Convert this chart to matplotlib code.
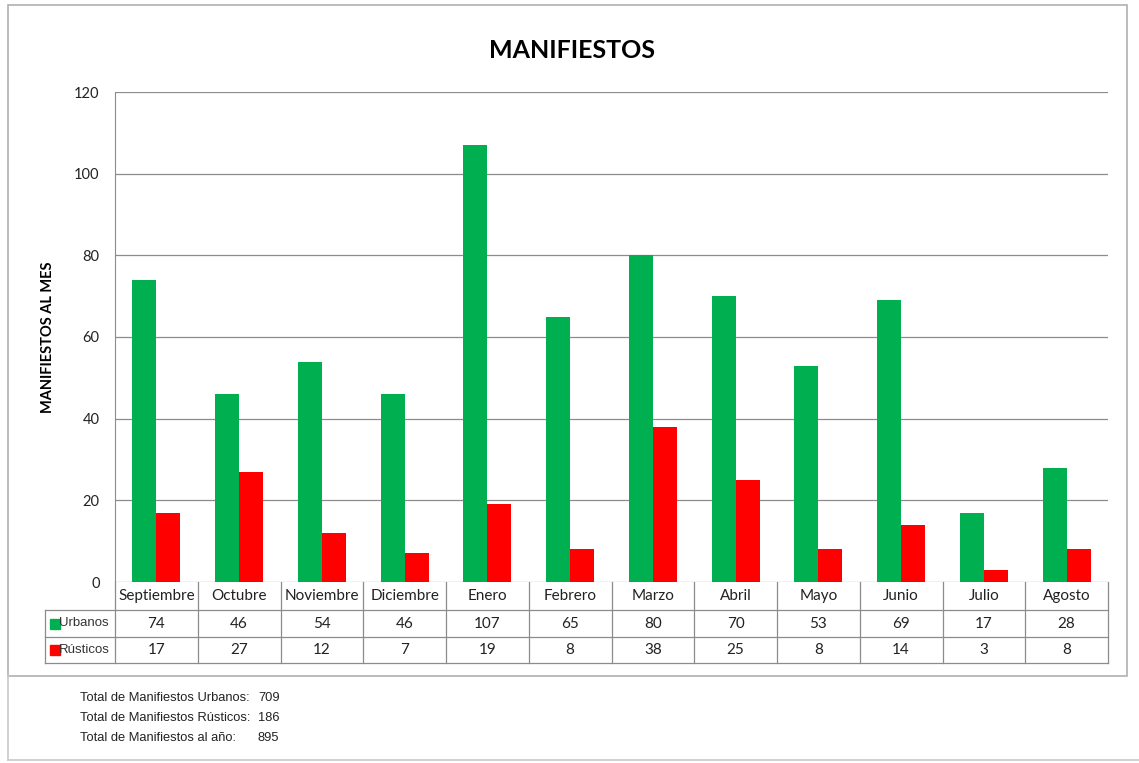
import matplotlib
matplotlib.use("Agg")
import matplotlib.pyplot as plt
from matplotlib.patches import Rectangle
from matplotlib.lines import Line2D

months = ["Septiembre", "Octubre", "Noviembre", "Diciembre", "Enero", "Febrero",
          "Marzo", "Abril", "Mayo", "Junio", "Julio", "Agosto"]
urbanos = [74, 46, 54, 46, 107, 65, 80, 70, 53, 69, 17, 28]
rusticos = [17, 27, 12, 7, 19, 8, 38, 25, 8, 14, 3, 8]
series_names = ["Urbanos", "Rústicos"]
yticks = [0, 20, 40, 60, 80, 100, 120]
totals_labels = ["Total de Manifiestos Urbanos:", "Total de Manifiestos Rústicos:", "Total de Manifiestos al año:"]
totals_values = [709, 186, 895]

GREEN = "#00b050"
RED = "#ff0000"
W, H = 1139, 763
plt.rcParams['font.family'] = ['Lato', 'DejaVu Sans']

fig = plt.figure(figsize=(W / 100, H / 100), dpi=100)

def fx(px):
    return px / W

def fy(py):
    return 1 - py / H

# frames
fig.add_artist(Rectangle((fx(8), fy(676)), fx(1127) - fx(8), fy(5) - fy(676),
                         transform=fig.transFigure, fill=False, edgecolor="#b0b0b0", lw=1.2))
fig.add_artist(Line2D([fx(8), fx(8)], [fy(676), fy(760)], transform=fig.transFigure, color="#c8c8c8", lw=1.2))
fig.add_artist(Line2D([fx(8), fx(1139)], [fy(760), fy(760)], transform=fig.transFigure, color="#c8c8c8", lw=1.2))

L, R, T, B = 115, 1108, 92, 582
ax = fig.add_axes([fx(L), fy(B), fx(R) - fx(L), fy(T) - fy(B)])
n = len(months)
x = list(range(n))
bw = 0.29
ax.bar([i - bw / 2 for i in x], urbanos, width=bw, color=GREEN, zorder=3)
ax.bar([i + bw / 2 for i in x], rusticos, width=bw, color=RED, zorder=3)
ax.set_xlim(-0.5, n - 0.5)
ax.set_ylim(0, 120)
ax.set_yticks(yticks)
ax.set_yticklabels([str(v) for v in yticks], fontsize=10.5, color="#222222")
ax.yaxis.grid(True, color="#8c8c8c", lw=0.9, zorder=0)
ax.set_xticks([])
for s in ["top", "right", "bottom"]:
    ax.spines[s].set_visible(False)
ax.spines["left"].set_color("#8c8c8c")
ax.tick_params(axis="y", length=0, pad=11)
ax.yaxis.set_label_coords(-(115 - 48) / (R - L), 0.5)
ax.set_ylabel("MANIFIESTOS AL MES", fontsize=10.5, fontweight="bold", va="center")

fig.text(fx(572), fy(50), "MANIFIESTOS", ha="center", va="center", fontsize=18, fontweight="bold")

# data table
cw = (R - L) / n
rows = [582, 610, 637, 663]
lc = "#8c8c8c"
def hline(x0, x1, y):
    fig.add_artist(Line2D([fx(x0), fx(x1)], [fy(y), fy(y)], transform=fig.transFigure, color=lc, lw=0.9))
def vline(xp, y0, y1):
    fig.add_artist(Line2D([fx(xp), fx(xp)], [fy(y0), fy(y1)], transform=fig.transFigure, color=lc, lw=0.9))

hline(45, R, rows[1])
hline(45, R, rows[2])
hline(45, R, rows[3])
vline(45, rows[1], rows[3])
for i in range(n + 1):
    vline(L + i * cw, rows[0], rows[3])
for i, m in enumerate(months):
    cx = L + (i + 0.5) * cw
    fig.text(fx(cx), fy((rows[0] + rows[1]) / 2), m, ha="center", va="center", fontsize=11, color="#222222")
    fig.text(fx(cx), fy((rows[1] + rows[2]) / 2), str(urbanos[i]), ha="center", va="center", fontsize=11, color="#222222")
    fig.text(fx(cx), fy((rows[2] + rows[3]) / 2), str(rusticos[i]), ha="center", va="center", fontsize=11, color="#222222")
for r, (name, col) in enumerate(zip(series_names, [GREEN, RED])):
    yc = (rows[1 + r] + rows[2 + r]) / 2
    fig.add_artist(Rectangle((fx(50), fy(yc + 5)), fx(10), fy(yc - 5) - fy(yc + 5),
                             transform=fig.transFigure, color=col))
    fig.text(fx(59), fy(yc), name, ha="left", va="center", fontsize=9.5, color="#333333",
             family=["Liberation Sans", "DejaVu Sans"])

# totals
for k, (lab, val) in enumerate(zip(totals_labels, totals_values)):
    yy = 698 + k * 20
    fig.text(fx(80), fy(yy), lab, ha="left", va="center", fontsize=9.3, color="#222222",
             family=["Liberation Sans", "DejaVu Sans"])
    fig.text(fx(258), fy(yy), str(val), ha="left", va="center", fontsize=9.3, color="#222222",
             family=["Liberation Sans", "DejaVu Sans"])

fig.savefig("out.png", dpi=100, facecolor="white")
